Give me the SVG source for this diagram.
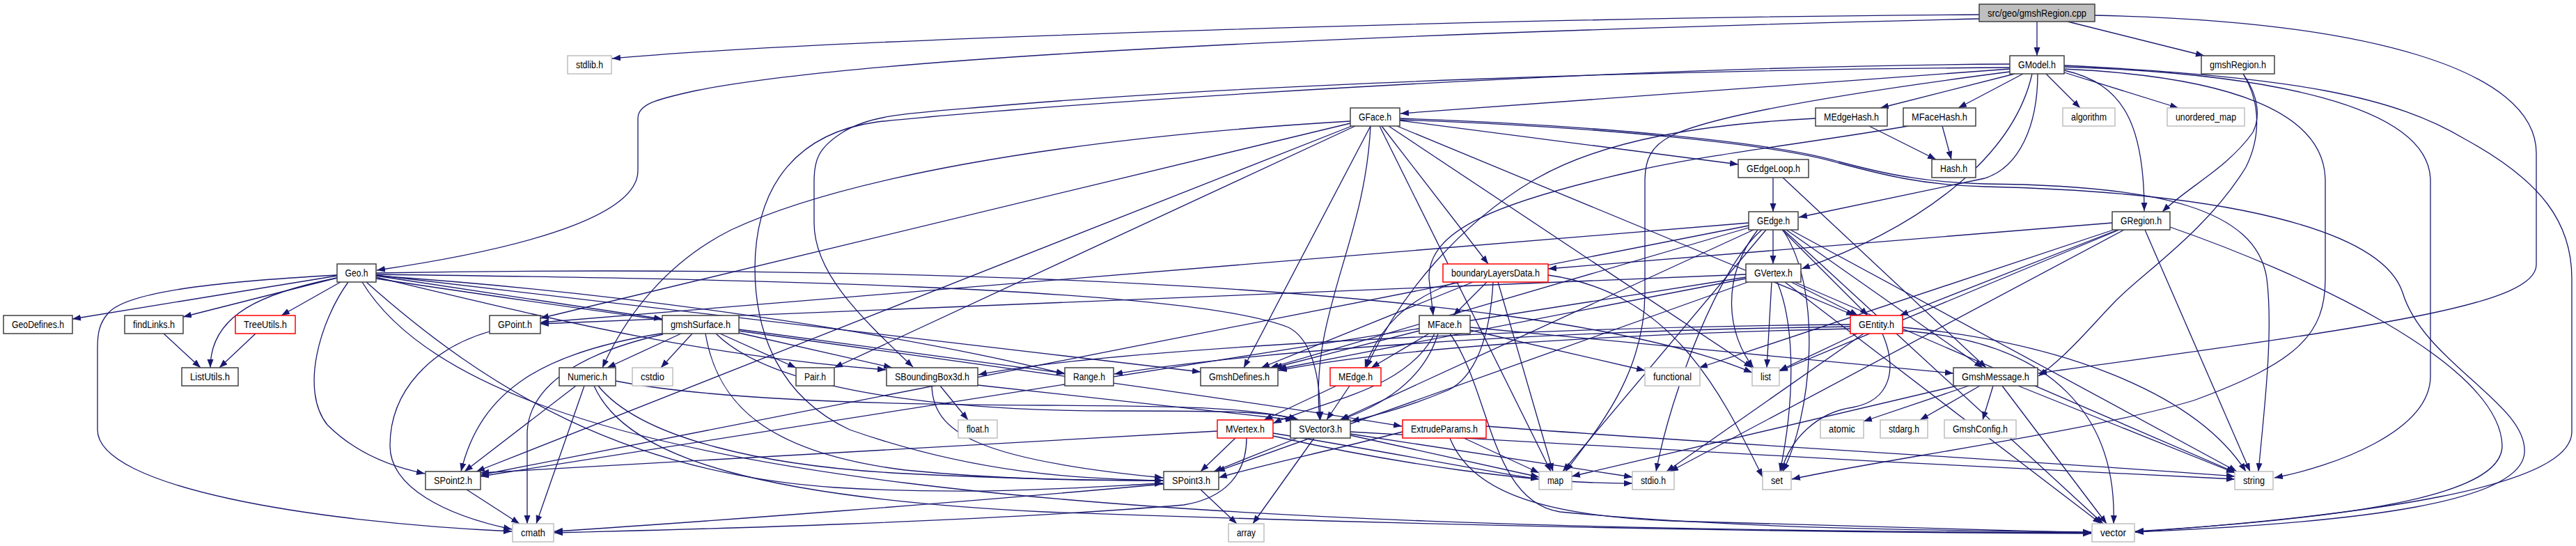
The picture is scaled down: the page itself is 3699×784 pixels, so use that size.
<svg xmlns="http://www.w3.org/2000/svg" width="3699" height="784" viewBox="0 0 3699 784">
<defs>
<marker id="a" markerWidth="13" markerHeight="10" refX="12" refY="4.5" orient="auto" markerUnits="userSpaceOnUse"><path d="M0,0 L12,4.5 L0,9 Z" fill="#191970"/></marker>
</defs>
<style>
.e path{fill:none;stroke:#191970;stroke-width:1.3;marker-end:url(#a)}
.n rect{fill:#fff;stroke:#404040;stroke-width:1.5}
.g rect{stroke:#bfbfbf}
.r rect{stroke:#ff0000}
.c rect{fill:#bfbfbf}
text{font-family:"Liberation Sans",Arial,sans-serif;font-size:14px;text-anchor:middle;fill:#000}
</style>
<rect width="3699" height="784" fill="#fff"/>
<g id="edges" class="e">
<path d="M2842,21 C2200,25 1200,55 879,84"/>
<path d="M2842,27 C2300,40 1300,70 1000,130 C940,143 916,150 916,170 L916,245 C916,300 800,350 541,388"/>
<path d="M2925,31 L2925,80"/>
<path d="M2969,31 L3165,80"/>
<path d="M3008,22 C3400,30 3642,100 3642,220 L3642,380 C3642,440 3400,470 2927,536"/>
<path d="M3221,106 C3245,140 3245,170 3235,190 C3200,240 3140,270 3105,304"/>
<path d="M3221,106 C3248,150 3245,200 3225,240 C3170,330 3080,390 3040,430 C3010,460 2970,510 2927,540"/>
<path d="M2886,99 L2011,163"/>
<path d="M2893,106 L2700,155"/>
<path d="M2905,106 L2812,155"/>
<path d="M2938,106 L2987,155"/>
<path d="M2964,104 L3128,155"/>
<path d="M2964,101 C3050,120 3079,180 3079,303"/>
<path d="M2926,106 C2926,180 2900,240 2850,256 L2583,312"/>
<path d="M2918,106 C2890,230 2750,330 2587,386"/>
<path d="M2886,97 C2400,100 1800,120 1420,153 C1300,163 1250,165 1210,190 C1175,212 1169,230 1169,260 L1169,320 C1169,390 1230,450 1311,527"/>
<path d="M2886,92 C2300,95 1500,150 1260,175 C1150,190 1085,260 1084,384 C1084,480 1120,570 1220,617 C1400,680 1550,688 1670,690"/>
<path d="M2886,103 C2600,140 2450,170 2400,195 C2370,210 2362,230 2362,260 L2362,420 C2362,540 2290,620 2248,677"/>
<path d="M2964,96 C3250,105 3490,150 3490,260 L3490,540 C3490,620 3350,670 3266,686"/>
<path d="M2964,99 C3200,110 3339,160 3339,260 L3339,400 C3339,480 3300,520 3150,575 C3000,620 2700,660 2573,688"/>
<path d="M2964,94 C3300,110 3440,140 3540,200 C3650,260 3693,320 3693,400 L3693,620 C3693,700 3400,740 3066,764"/>
<path d="M2684,181 L2780,229"/>
<path d="M2607,170 C2450,178 2300,200 2200,260 C2100,320 2010,420 1962,528"/>
<path d="M2789,181 L2802,229"/>
<path d="M2740,181 C2600,205 2450,222 2350,245 C2150,290 2050,330 2052,400 L2058,453"/>
<path d="M2010,173 L2496,236"/>
<path d="M2006,181 L2663,453"/>
<path d="M1984,181 L2137,379"/>
<path d="M1939,177 L776,457"/>
<path d="M1941,181 L684,677"/>
<path d="M1968,181 C1960,350 1880,450 1895,603"/>
<path d="M1946,181 L1198,528"/>
<path d="M1939,174 C1500,200 1200,260 1050,330 C960,375 900,450 865,528"/>
<path d="M1968,181 L1786,528"/>
<path d="M1994,181 L2516,528"/>
<path d="M2010,170 C2300,180 2550,205 2640,232 C2700,248 2760,262 2850,264 C3100,266 3240,300 3255,400 C3265,480 3250,600 3243,677"/>
<path d="M2010,172 C2300,182 2550,207 2640,234 C2700,250 2760,266 2850,268 C3200,276 3420,330 3450,420 C3480,520 3630,580 3625,650 C3620,720 3400,750 3066,764"/>
<path d="M1981,181 L2227,677"/>
<path d="M2546,255 L2546,304"/>
<path d="M2560,255 L2852,528"/>
<path d="M2546,330 L2546,379"/>
<path d="M2559,330 L2682,453"/>
<path d="M2511,320 L776,463"/>
<path d="M2511,324 L690,682"/>
<path d="M2518,330 L1924,603"/>
<path d="M2511,327 L1824,528"/>
<path d="M2524,330 C2470,400 2480,480 2518,528"/>
<path d="M2571,330 L3212,677"/>
<path d="M2561,330 L3020,752"/>
<path d="M2560,330 C2620,420 2600,600 2560,677"/>
<path d="M2530,330 C2470,380 2400,560 2378,677"/>
<path d="M2536,330 L2244,677"/>
<path d="M2565,330 L2847,528"/>
<path d="M2572,405 L2668,453"/>
<path d="M2544,405 L2537,528"/>
<path d="M2552,405 C2575,460 2580,560 2556,677"/>
<path d="M2507,394 L776,465"/>
<path d="M2507,398 L690,684"/>
<path d="M2507,400 L1835,530"/>
<path d="M2577,405 L3209,678"/>
<path d="M2563,405 L3017,752"/>
<path d="M2510,405 L1747,677"/>
<path d="M3041,330 L2728,453"/>
<path d="M3033,320 L2223,386"/>
<path d="M3043,330 L2555,533"/>
<path d="M3080,330 L3231,677"/>
<path d="M3116,326 C3300,390 3590,520 3593,640 C3593,700 3450,740 3066,763"/>
<path d="M3050,330 L2398,677"/>
<path d="M3035,330 L2440,528"/>
<path d="M484,396 L104,458"/>
<path d="M484,399 L263,455"/>
<path d="M489,405 L404,453"/>
<path d="M484,399 C380,420 302,450 302,528"/>
<path d="M540,396 L951,458"/>
<path d="M500,405 C460,460 430,560 470,610 C510,650 560,670 610,680"/>
<path d="M484,395 C300,405 180,420 155,450 C142,465 140,480 140,500 L140,617 C140,700 450,750 735,763"/>
<path d="M526,405 C700,560 900,680 1200,700 C1400,712 1550,700 1670,694"/>
<path d="M540,395 L1724,534"/>
<path d="M540,398 C800,460 1000,510 1272,531"/>
<path d="M540,396 C900,420 1300,480 1529,537"/>
<path d="M540,394 C1000,400 1700,410 1850,470 C1890,490 1896,560 1896,603"/>
<path d="M540,400 C1000,470 1700,560 2013,612"/>
<path d="M540,392 C1200,380 2200,400 2516,535"/>
<path d="M520,405 C700,700 1600,760 3003,765"/>
<path d="M955,478 C780,505 690,560 662,677"/>
<path d="M952,480 C820,510 760,560 757,620 L757,752"/>
<path d="M978,479 L872,528"/>
<path d="M994,479 L949,528"/>
<path d="M1034,479 L1143,528"/>
<path d="M1061,473 L1529,536"/>
<path d="M1061,478 L1281,528"/>
<path d="M1013,479 C1030,580 1100,650 1300,675 C1450,690 1580,690 1670,690"/>
<path d="M1028,479 C1120,570 1400,590 1600,590 C1750,590 1830,590 1862,603"/>
<path d="M827,554 L667,677"/>
<path d="M839,554 L770,752"/>
<path d="M859,554 C920,630 1100,670 1300,680 C1450,688 1600,690 1670,690"/>
<path d="M884,547 C1000,570 1200,581 1500,582 C1700,583 1800,585 1865,603"/>
<path d="M853,554 C900,660 1100,715 1500,735 C2200,760 2700,765 3003,766"/>
<path d="M1350,554 L1390,603"/>
<path d="M1338,554 C1340,620 1400,660 1670,686"/>
<path d="M1404,553 L1858,603"/>
<path d="M2052,479 L1969,528"/>
<path d="M2060,479 C2020,560 1900,575 1828,608"/>
<path d="M2065,479 C2040,560 1960,590 1925,603"/>
<path d="M2038,475 L1829,528"/>
<path d="M2111,474 L2362,532"/>
<path d="M2082,479 C2140,560 2140,720 2240,735 C2500,760 2800,762 3003,764"/>
<path d="M2111,470 L2805,536"/>
<path d="M1919,554 L1815,603"/>
<path d="M1938,554 L1905,603"/>
<path d="M2135,405 L2087,453"/>
<path d="M2090,405 C2020,430 1980,470 1960,528"/>
<path d="M2144,405 C2140,480 2120,540 2080,560 C2020,585 1980,595 1940,605"/>
<path d="M2151,405 L2230,677"/>
<path d="M2223,395 C2400,420 2470,560 2531,685"/>
<path d="M2115,405 L1811,528"/>
<path d="M2667,479 L2555,532"/>
<path d="M2657,466 C2200,470 1600,500 1405,538"/>
<path d="M2657,469 C2200,475 1800,505 1600,537"/>
<path d="M2657,472 C2300,480 2000,500 1836,532"/>
<path d="M2676,479 L2393,677"/>
<path d="M2703,479 C2725,530 2715,575 2660,585 C2610,592 2570,630 2558,677"/>
<path d="M2732,470 C2950,490 3150,560 3225,677"/>
<path d="M2732,475 C2950,490 3040,600 3035,752"/>
<path d="M2827,554 L2676,605"/>
<path d="M2843,554 L2757,603"/>
<path d="M2862,554 L2847,603"/>
<path d="M2875,554 L3025,752"/>
<path d="M2898,554 L3209,679"/>
<path d="M2810,554 L2257,684"/>
<path d="M1863,629 L1743,677"/>
<path d="M1887,629 L1799,752"/>
<path d="M1939,623 L2344,685"/>
<path d="M1939,620 C2300,640 2800,670 3209,688"/>
<path d="M1939,625 L2210,685"/>
<path d="M1774,629 L1724,677"/>
<path d="M1748,619 L690,679"/>
<path d="M1790,629 C1790,680 1760,715 1700,725 C1400,750 1000,760 796,765"/>
<path d="M1828,622 C2000,650 2150,680 2210,688"/>
<path d="M1828,626 C2000,665 2200,695 2344,694"/>
<path d="M2014,620 C1900,650 1800,670 1750,686"/>
<path d="M2102,629 L2210,679"/>
<path d="M2082,629 C2110,700 2200,740 2400,748 C2700,758 2900,762 3003,765"/>
<path d="M2134,612 C2500,640 2900,660 3209,684"/>
<path d="M1671,695 C1400,720 1000,750 796,763"/>
<path d="M1724,703 L1776,752"/>
<path d="M670,703 L746,752"/>
<path d="M703,476 C620,500 560,560 560,640 C560,700 640,740 735,760"/>
<path d="M235,479 L288,528"/>
<path d="M367,479 L315,528"/>
</g>
<g id="n-cpp" class="n c"><rect x="2842" y="6" width="166" height="25"/><text x="2925" y="23.5" textLength="142" lengthAdjust="spacingAndGlyphs">src/geo/gmshRegion.cpp</text></g>
<g id="n-stdlib" class="n g"><rect x="815" y="80" width="63" height="26"/><text x="846.5" y="98" textLength="39" lengthAdjust="spacingAndGlyphs">stdlib.h</text></g>
<g id="n-GModel" class="n"><rect x="2886" y="80" width="78" height="26"/><text x="2925" y="98" textLength="54" lengthAdjust="spacingAndGlyphs">GModel.h</text></g>
<g id="n-gmshRegionH" class="n"><rect x="3161" y="80" width="105" height="26"/><text x="3213.5" y="98" textLength="81" lengthAdjust="spacingAndGlyphs">gmshRegion.h</text></g>
<g id="n-GFace" class="n"><rect x="1939" y="155" width="71" height="26"/><text x="1974.5" y="173" textLength="47" lengthAdjust="spacingAndGlyphs">GFace.h</text></g>
<g id="n-MEdgeHash" class="n"><rect x="2607" y="155" width="103" height="26"/><text x="2658.5" y="173" textLength="79" lengthAdjust="spacingAndGlyphs">MEdgeHash.h</text></g>
<g id="n-MFaceHash" class="n"><rect x="2733" y="155" width="104" height="26"/><text x="2785" y="173" textLength="80" lengthAdjust="spacingAndGlyphs">MFaceHash.h</text></g>
<g id="n-algorithm" class="n g"><rect x="2962" y="155" width="75" height="26"/><text x="2999.5" y="173" textLength="51" lengthAdjust="spacingAndGlyphs">algorithm</text></g>
<g id="n-unordered_map" class="n g"><rect x="3112" y="155" width="111" height="26"/><text x="3167.5" y="173" textLength="87" lengthAdjust="spacingAndGlyphs">unordered_map</text></g>
<g id="n-GEdgeLoop" class="n"><rect x="2496" y="229" width="101" height="26"/><text x="2546.5" y="247" textLength="77" lengthAdjust="spacingAndGlyphs">GEdgeLoop.h</text></g>
<g id="n-Hash" class="n"><rect x="2774" y="229" width="63" height="26"/><text x="2805.5" y="247" textLength="39" lengthAdjust="spacingAndGlyphs">Hash.h</text></g>
<g id="n-GEdge" class="n"><rect x="2511" y="304" width="71" height="26"/><text x="2546.5" y="322" textLength="47" lengthAdjust="spacingAndGlyphs">GEdge.h</text></g>
<g id="n-GRegion" class="n"><rect x="3033" y="304" width="83" height="26"/><text x="3074.5" y="322" textLength="59" lengthAdjust="spacingAndGlyphs">GRegion.h</text></g>
<g id="n-Geo" class="n"><rect x="484" y="379" width="56" height="26"/><text x="512" y="397" textLength="33" lengthAdjust="spacingAndGlyphs">Geo.h</text></g>
<g id="n-boundaryLayersData" class="n r"><rect x="2072" y="379" width="151" height="26"/><text x="2147.5" y="397" textLength="127" lengthAdjust="spacingAndGlyphs">boundaryLayersData.h</text></g>
<g id="n-GVertex" class="n"><rect x="2507" y="379" width="79" height="26"/><text x="2546.5" y="397" textLength="55" lengthAdjust="spacingAndGlyphs">GVertex.h</text></g>
<g id="n-GeoDefines" class="n"><rect x="5" y="453" width="99" height="26"/><text x="54.5" y="471" textLength="75" lengthAdjust="spacingAndGlyphs">GeoDefines.h</text></g>
<g id="n-findLinks" class="n"><rect x="179" y="453" width="84" height="26"/><text x="221" y="471" textLength="60" lengthAdjust="spacingAndGlyphs">findLinks.h</text></g>
<g id="n-TreeUtils" class="n r"><rect x="338" y="453" width="86" height="26"/><text x="381" y="471" textLength="62" lengthAdjust="spacingAndGlyphs">TreeUtils.h</text></g>
<g id="n-GPoint" class="n"><rect x="703" y="453" width="73" height="26"/><text x="739.5" y="471" textLength="49" lengthAdjust="spacingAndGlyphs">GPoint.h</text></g>
<g id="n-gmshSurface" class="n"><rect x="951" y="453" width="110" height="26"/><text x="1006" y="471" textLength="86" lengthAdjust="spacingAndGlyphs">gmshSurface.h</text></g>
<g id="n-MFace" class="n"><rect x="2038" y="453" width="73" height="26"/><text x="2074.5" y="471" textLength="49" lengthAdjust="spacingAndGlyphs">MFace.h</text></g>
<g id="n-GEntity" class="n r"><rect x="2657" y="453" width="75" height="26"/><text x="2694.5" y="471" textLength="51" lengthAdjust="spacingAndGlyphs">GEntity.h</text></g>
<g id="n-ListUtils" class="n"><rect x="261" y="528" width="81" height="26"/><text x="301.5" y="546" textLength="57" lengthAdjust="spacingAndGlyphs">ListUtils.h</text></g>
<g id="n-Numeric" class="n"><rect x="803" y="528" width="81" height="26"/><text x="843.5" y="546" textLength="57" lengthAdjust="spacingAndGlyphs">Numeric.h</text></g>
<g id="n-cstdio" class="n g"><rect x="908" y="528" width="58" height="26"/><text x="937" y="546" textLength="34" lengthAdjust="spacingAndGlyphs">cstdio</text></g>
<g id="n-Pair" class="n"><rect x="1143" y="528" width="55" height="26"/><text x="1170.5" y="546" textLength="31" lengthAdjust="spacingAndGlyphs">Pair.h</text></g>
<g id="n-SBoundingBox3d" class="n"><rect x="1273" y="528" width="131" height="26"/><text x="1338.5" y="546" textLength="107" lengthAdjust="spacingAndGlyphs">SBoundingBox3d.h</text></g>
<g id="n-Range" class="n"><rect x="1529" y="528" width="70" height="26"/><text x="1564" y="546" textLength="46" lengthAdjust="spacingAndGlyphs">Range.h</text></g>
<g id="n-GmshDefines" class="n"><rect x="1724" y="528" width="111" height="26"/><text x="1779.5" y="546" textLength="87" lengthAdjust="spacingAndGlyphs">GmshDefines.h</text></g>
<g id="n-MEdge" class="n r"><rect x="1910" y="528" width="73" height="26"/><text x="1946.5" y="546" textLength="49" lengthAdjust="spacingAndGlyphs">MEdge.h</text></g>
<g id="n-functional" class="n g"><rect x="2362" y="528" width="79" height="26"/><text x="2401.5" y="546" textLength="55" lengthAdjust="spacingAndGlyphs">functional</text></g>
<g id="n-list" class="n g"><rect x="2516" y="528" width="39" height="26"/><text x="2535.5" y="546" textLength="15" lengthAdjust="spacingAndGlyphs">list</text></g>
<g id="n-GmshMessage" class="n"><rect x="2805" y="528" width="121" height="26"/><text x="2865.5" y="546" textLength="97" lengthAdjust="spacingAndGlyphs">GmshMessage.h</text></g>
<g id="n-float" class="n g"><rect x="1376" y="603" width="56" height="26"/><text x="1404" y="621" textLength="32" lengthAdjust="spacingAndGlyphs">float.h</text></g>
<g id="n-MVertex" class="n r"><rect x="1748" y="603" width="80" height="26"/><text x="1788" y="621" textLength="56" lengthAdjust="spacingAndGlyphs">MVertex.h</text></g>
<g id="n-SVector3" class="n"><rect x="1853" y="603" width="86" height="26"/><text x="1896" y="621" textLength="62" lengthAdjust="spacingAndGlyphs">SVector3.h</text></g>
<g id="n-ExtrudeParams" class="n r"><rect x="2014" y="603" width="120" height="26"/><text x="2074" y="621" textLength="96" lengthAdjust="spacingAndGlyphs">ExtrudeParams.h</text></g>
<g id="n-atomic" class="n g"><rect x="2614" y="603" width="62" height="26"/><text x="2645" y="621" textLength="38" lengthAdjust="spacingAndGlyphs">atomic</text></g>
<g id="n-stdarg" class="n g"><rect x="2700" y="603" width="68" height="26"/><text x="2734" y="621" textLength="44" lengthAdjust="spacingAndGlyphs">stdarg.h</text></g>
<g id="n-GmshConfig" class="n g"><rect x="2792" y="603" width="103" height="26"/><text x="2843.5" y="621" textLength="79" lengthAdjust="spacingAndGlyphs">GmshConfig.h</text></g>
<g id="n-SPoint2" class="n"><rect x="611" y="677" width="79" height="26"/><text x="650.5" y="695" textLength="55" lengthAdjust="spacingAndGlyphs">SPoint2.h</text></g>
<g id="n-SPoint3" class="n"><rect x="1671" y="677" width="79" height="26"/><text x="1710.5" y="695" textLength="55" lengthAdjust="spacingAndGlyphs">SPoint3.h</text></g>
<g id="n-map" class="n g"><rect x="2210" y="677" width="47" height="26"/><text x="2233.5" y="695" textLength="23" lengthAdjust="spacingAndGlyphs">map</text></g>
<g id="n-stdio" class="n g"><rect x="2344" y="677" width="60" height="26"/><text x="2374" y="695" textLength="36" lengthAdjust="spacingAndGlyphs">stdio.h</text></g>
<g id="n-set" class="n g"><rect x="2531" y="677" width="41" height="26"/><text x="2551.5" y="695" textLength="17" lengthAdjust="spacingAndGlyphs">set</text></g>
<g id="n-string" class="n g"><rect x="3209" y="677" width="55" height="26"/><text x="3236.5" y="695" textLength="31" lengthAdjust="spacingAndGlyphs">string</text></g>
<g id="n-cmath" class="n g"><rect x="736" y="752" width="59" height="26"/><text x="765.5" y="770" textLength="35" lengthAdjust="spacingAndGlyphs">cmath</text></g>
<g id="n-array" class="n g"><rect x="1764" y="752" width="51" height="26"/><text x="1789.5" y="770" textLength="27" lengthAdjust="spacingAndGlyphs">array</text></g>
<g id="n-vector" class="n g"><rect x="3004" y="752" width="61" height="26"/><text x="3034.5" y="770" textLength="37" lengthAdjust="spacingAndGlyphs">vector</text></g>
</svg>
